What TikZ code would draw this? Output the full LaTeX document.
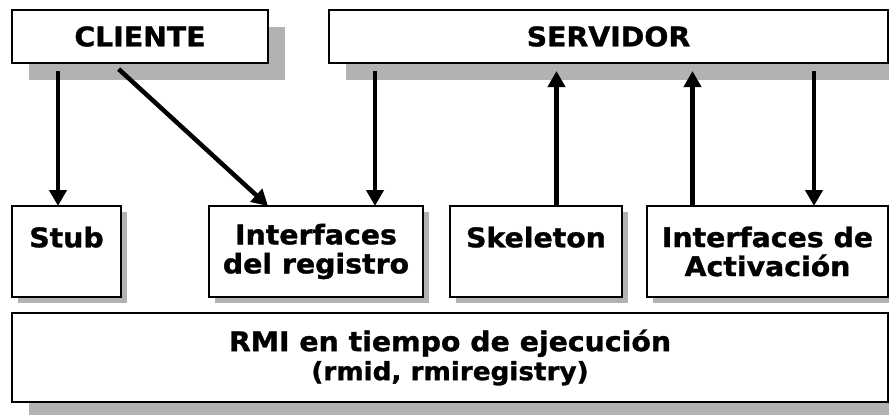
\documentclass[tikz,border=0pt]{standalone}
\usepackage{fontspec}
\setmainfont{DejaVu Sans}[FakeStretch=1.05, BoldFeatures={FakeBold=1.2}]
\usepackage{xcolor}
\usepackage{tikz}
\usetikzlibrary{positioning, calc, shadows, arrows.meta}
\definecolor{sombra}{HTML}{B2B2B2}
\tikzset{
	caja/.style={draw, line width=2pt, outer sep=0pt, fill=white, align=center,
		font=\bfseries\fontsize{27}{29}\selectfont},
	cajagrande/.style={caja, minimum height=53pt,
		drop shadow={shadow xshift=16.5pt, shadow yshift=-16.5pt, fill=sombra, opacity=1}},
	cajapeque/.style={caja, minimum height=91pt, inner sep=0pt,
		drop shadow={shadow xshift=6pt, shadow yshift=-6pt, fill=sombra, opacity=1}},
	flecha/.style={line width=4.5pt, -{Triangle[length=16pt,width=17pt]}}
}

\begin{document}
\begin{tikzpicture}[x=1pt, y=-1pt, node distance=16pt and 25pt]
\useasboundingbox (0,0) rectangle (889,415);
\node[cajagrande, minimum width=256pt] (cliente) at (140,36.5) {CLIENTE};
\node[cajagrande, minimum width=559pt, right = 61pt of cliente] (servidor) {SERVIDOR};

\node[cajapeque, minimum width=109pt, anchor=north west] (stub) at (12,206) {Stub\\~};
\node[cajapeque, minimum width=214pt, right = 88pt of stub] (registro) {Interfaces\\del registro};
\node[cajapeque, minimum width=172pt, right = 27pt of registro] (skeleton) {Skeleton\\~};
\node[cajapeque, minimum width=241pt, right = of skeleton] (activacion) {Interfaces de\\Activación};

\node[cajagrande, minimum width=876pt, minimum height=89pt, below = of stub.south west, anchor=north west] (rmi)
	{RMI en tiempo de ejecución\\{\fontsize{25}{29}\selectfont (rmid, rmiregistry)}};

\draw[flecha, shorten <=8pt] ([xshift=46pt]cliente.south west) -- ([xshift=46pt]stub.north west);
\draw[flecha, shorten <=9pt] ([xshift=100pt]cliente.south west) -- ([xshift=59pt]registro.north west);
\draw[flecha, shorten <=8pt] ([xshift=46pt]servidor.south west) -- ([xshift=166pt]registro.north west);
\draw[flecha, shorten >=8pt] ([xshift=106.5pt]skeleton.north west) -- ([xshift=227.5pt]servidor.south west);
\draw[flecha, shorten >=8pt] ([xshift=45.5pt]activacion.north west) -- ([xshift=363.5pt]servidor.south west);
\draw[flecha, shorten <=8pt] ([xshift=485pt]servidor.south west) -- ([xshift=167pt]activacion.north west);
\end{tikzpicture}
\end{document}
